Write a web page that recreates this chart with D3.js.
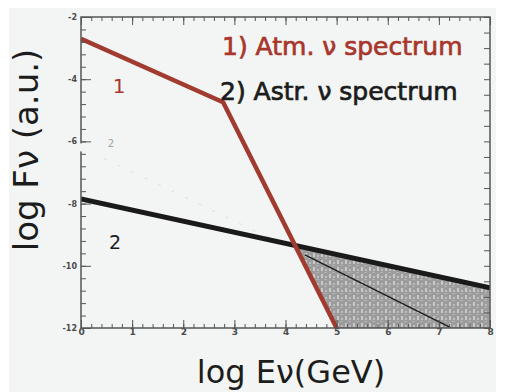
<!DOCTYPE html>
<html>
<head>
<meta charset="utf-8">
<script src="https://cdn.jsdelivr.net/npm/d3@7"></script>
<style>
  body { margin: 0; background: #fff; }
  svg { display: block; }
  .tick text { font-family: "DejaVu Sans", sans-serif; font-weight: bold; fill: #4a4a4a; }
  .domain { display: none; }
</style>
</head>
<body>
<svg width="505" height="392"></svg>
<script>
// spectre atmosphérique (1) : cassure puis chute rapide
const atmE = [0, 2.78, 5.0];
const atmF = [-2.7, -4.74, -12];
// spectre astrophysique (2) : loi de puissance plus dure
const astrE = [0, 8];
const astrF = [-7.85, -10.71];
// courbe fine (seconde pente) et son prolongement pâle
const thinE = [4.38, 7.22];
const thinF = [-9.65, -11.98];
const faintE = [0.45, 4.38];
const faintF = [-6.55, -9.65];

const xTicks = [0, 1, 2, 3, 4, 5, 6, 7, 8];
const yTicks = [-2, -4, -6, -8, -10, -12];
const legend = ['1) Atm. \u03bd spectrum', '2) Astr. \u03bd spectrum'];

const svg = d3.select('svg');
const x = d3.scaleLinear().domain([0, 8]).range([81, 490]);
const y = d3.scaleLinear().domain([-12, -2]).range([328, 17]);

// fond légèrement gris du scan
svg.append('rect').attr('x', 9).attr('y', 8).attr('width', 487).attr('height', 384).attr('fill', '#f3f5f4');

// motif hachuré de la zone grise
const defs = svg.append('defs');
const pat = defs.append('pattern').attr('id', 'speckle').attr('patternUnits', 'userSpaceOnUse')
  .attr('width', 8).attr('height', 7);
pat.append('rect').attr('width', 8).attr('height', 7).attr('fill', '#9c9c9c');
pat.append('rect').attr('x', 1).attr('y', 1).attr('width', 2).attr('height', 4).attr('fill', '#c9c9c9');
pat.append('rect').attr('x', 5).attr('y', 3).attr('width', 2).attr('height', 2).attr('fill', '#bdbdbd');
pat.append('rect').attr('x', 4).attr('y', 6).attr('width', 3).attr('height', 1).attr('fill', '#b3b3b3');

defs.append('clipPath').attr('id', 'plot').append('rect')
  .attr('x', x(0)).attr('y', y(-2)).attr('width', x(8) - x(0)).attr('height', y(-12) - y(-2));

const pts = (xs, ys) => xs.map((v, i) => [v, ys[i]]);
const line = d3.line().x(d => x(d[0])).y(d => y(d[1]));

// intersection des spectres 1 et 2
const sA = (atmF[2] - atmF[1]) / (atmE[2] - atmE[1]);
const sB = (astrF[1] - astrF[0]) / (astrE[1] - astrE[0]);
const xi = (astrF[0] - atmF[1] + sA * atmE[1]) / (sA - sB);
const yi = astrF[0] + sB * xi;

const g = svg.append('g').attr('clip-path', 'url(#plot)');

g.append('path')
  .attr('d', line([[xi, yi], [astrE[1], astrF[1]], [8, -12], [atmE[2], atmF[2]]]) + 'Z')
  .attr('fill', 'url(#speckle)');

g.append('path').attr('d', line(pts(faintE, faintF)))
  .attr('fill', 'none').attr('stroke', '#dcdcdc').attr('stroke-width', 1).attr('stroke-dasharray', '3,12');
g.append('path').attr('d', line(pts(thinE, thinF)))
  .attr('fill', 'none').attr('stroke', '#1e1e1e').attr('stroke-width', 1.4);
g.append('path').attr('d', line(pts(astrE, astrF)))
  .attr('fill', 'none').attr('stroke', '#1a1a1a').attr('stroke-width', 5);
g.append('path').attr('d', line(pts(atmE, atmF)))
  .attr('fill', 'none').attr('stroke', '#a13a2f').attr('stroke-width', 4.5).attr('stroke-linejoin', 'round');

// axes : graduations vers l'intérieur
const minorX = d3.range(0, 8.01, 0.2);
const minorY = d3.range(-12, -1.99, 0.4);
const minorR = d3.range(-12, -1.99, 0.5);

svg.append('g').attr('transform', `translate(0,${y(-12)})`)
  .call(d3.axisBottom(x).tickValues(minorX).tickSize(-4).tickFormat(''))
  .selectAll('line').attr('stroke', '#555');
svg.append('g').attr('transform', `translate(0,${y(-12)})`)
  .call(d3.axisBottom(x).tickValues(xTicks).tickSize(-8).tickPadding(-3).tickFormat(d => d))
  .call(a => a.selectAll('text').attr('font-size', 9).attr('dy', '1.1em'))
  .selectAll('line').attr('stroke', '#555');

svg.append('g').attr('transform', `translate(0,${y(-2)})`)
  .call(d3.axisTop(x).tickValues(minorX).tickSize(-4).tickFormat(''))
  .selectAll('line').attr('stroke', '#555');
svg.append('g').attr('transform', `translate(0,${y(-2)})`)
  .call(d3.axisTop(x).tickValues(xTicks).tickSize(-8).tickFormat(''))
  .selectAll('line').attr('stroke', '#555');

svg.append('g').attr('transform', `translate(${x(0)},0)`)
  .call(d3.axisLeft(y).tickValues(minorY).tickSize(-5).tickFormat(''))
  .selectAll('line').attr('stroke', '#555');
svg.append('g').attr('transform', `translate(${x(0)},0)`)
  .call(d3.axisLeft(y).tickValues(yTicks).tickSize(-10).tickPadding(-1).tickFormat(d => String(d)))
  .call(a => a.selectAll('text').attr('font-size', 8).attr('x', -4))
  .selectAll('line').attr('stroke', '#555');

svg.append('g').attr('transform', `translate(${x(8)},0)`)
  .call(d3.axisRight(y).tickValues(minorR).tickSize(-6).tickFormat(''))
  .selectAll('line').attr('stroke', '#555');

// cadre
svg.append('rect')
  .attr('x', x(0)).attr('y', y(-2)).attr('width', x(8) - x(0)).attr('height', y(-12) - y(-2))
  .attr('fill', 'none').attr('stroke', '#555').attr('stroke-width', 1.5);
// coupure de l'axe gauche vers -6
svg.append('rect').attr('x', x(0) - 2).attr('y', y(-6) + 2).attr('width', 4).attr('height', 8).attr('fill', '#f3f5f4');

// légende (trait un peu gras comme sur l'original)
const font = '"DejaVu Sans", sans-serif';
svg.append('text').attr('x', 222).attr('y', 55).text(legend[0])
  .attr('font-family', font).attr('font-size', 25).attr('fill', '#a8362c')
  .attr('stroke', '#a8362c').attr('stroke-width', 0.7);
svg.append('text').attr('x', 220).attr('y', 100).text(legend[1])
  .attr('font-family', font).attr('font-size', 25).attr('fill', '#1c1c1c')
  .attr('stroke', '#1c1c1c').attr('stroke-width', 0.7);

svg.append('text').attr('x', 119).attr('y', 93).attr('text-anchor', 'middle').text('1')
  .attr('font-family', font).attr('font-size', 20).attr('fill', '#a8362c');
svg.append('text').attr('x', 115).attr('y', 249).attr('text-anchor', 'middle').text('2')
  .attr('font-family', font).attr('font-size', 19).attr('fill', '#1c1c1c');
svg.append('text').attr('x', 111).attr('y', 147).attr('text-anchor', 'middle').text('2')
  .attr('font-family', font).attr('font-size', 10).attr('fill', '#a0a0a0');

// titres des axes
svg.append('text').attr('x', 291).attr('y', 383).attr('text-anchor', 'middle')
  .text('log E\u03bd(GeV)').attr('font-family', font).attr('font-size', 32).attr('fill', '#1c1c1c');
svg.append('text').attr('transform', 'translate(38,150) rotate(-90)').attr('text-anchor', 'middle')
  .text('log F\u03bd (a.u.)').attr('font-family', font).attr('font-size', 34).attr('fill', '#1c1c1c');
</script>
</body>
</html>
